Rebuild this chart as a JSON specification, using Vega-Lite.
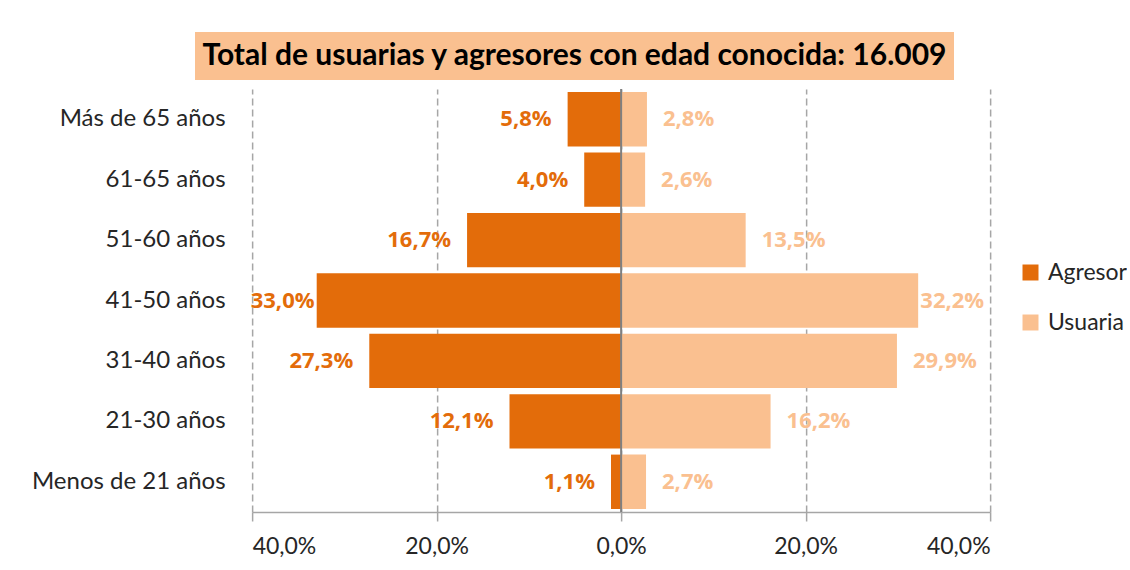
{
  "$schema": "https://vega.github.io/schema/vega-lite/v6.json",
  "background": "white",
  "padding": {"left": 31, "top": 32, "right": 0, "bottom": 0},
  "config": {"font": "Lato", "view": {"stroke": null}},
  "center": true,
  "spacing": 8,
  "vconcat": [
    {
      "width": 759,
      "height": 48,
      "view": {"fill": "#FAC090", "stroke": null},
      "data": {"values": [{"t": "Total de usuarias y agresores con edad conocida: 16.009"}]},
      "mark": {"type": "text", "font": "Lato", "fontWeight": "bold", "fontSize": 30, "color": "#000000", "baseline": "middle", "align": "center"},
      "encoding": {
        "text": {"field": "t", "type": "nominal"},
        "y": {"datum": "a", "type": "nominal", "axis": {"orient": "right", "labels": false, "ticks": false, "domain": false, "grid": false, "title": ".", "titleColor": "#ffffff", "titleFontSize": 11, "titlePadding": 83}}
      }
    },
    {
      "width": 738,
      "height": 423,
      "data": {
        "values": [
          {"edad": "Más de 65 años", "sexo": "Agresor", "valor": -0.058},
          {"edad": "61-65 años", "sexo": "Agresor", "valor": -0.040},
          {"edad": "51-60 años", "sexo": "Agresor", "valor": -0.167},
          {"edad": "41-50 años", "sexo": "Agresor", "valor": -0.330},
          {"edad": "31-40 años", "sexo": "Agresor", "valor": -0.273},
          {"edad": "21-30 años", "sexo": "Agresor", "valor": -0.121},
          {"edad": "Menos de 21 años", "sexo": "Agresor", "valor": -0.011},
          {"edad": "Más de 65 años", "sexo": "Usuaria", "valor": 0.028},
          {"edad": "61-65 años", "sexo": "Usuaria", "valor": 0.026},
          {"edad": "51-60 años", "sexo": "Usuaria", "valor": 0.135},
          {"edad": "41-50 años", "sexo": "Usuaria", "valor": 0.322},
          {"edad": "31-40 años", "sexo": "Usuaria", "valor": 0.299},
          {"edad": "21-30 años", "sexo": "Usuaria", "valor": 0.162},
          {"edad": "Menos de 21 años", "sexo": "Usuaria", "valor": 0.027}
        ]
      },
      "transform": [
        {"calculate": "replace(format(abs(datum.valor), '.1%'), '.', ',')", "as": "etiqueta"},
        {"calculate": "datum.valor < 0 ? max(datum.valor, -0.315) : min(datum.valor, 0.307)", "as": "posEtiqueta"}
      ],
      "layer": [
        {
          "mark": {"type": "bar"},
          "encoding": {
            "y": {
              "field": "edad", "type": "nominal",
              "sort": ["Más de 65 años", "61-65 años", "51-60 años", "41-50 años", "31-40 años", "21-30 años", "Menos de 21 años"],
              "scale": {"paddingInner": 0.1, "paddingOuter": 0.05},
              "axis": {"title": null, "ticks": false, "domain": false, "labelFont": "Lato", "labelFontSize": 24, "labelColor": "#262626", "labelPadding": 27, "labelLimit": 400}
            },
            "x": {
              "field": "valor", "type": "quantitative",
              "scale": {"domain": [-0.4, 0.4]},
              "axis": {
                "title": null,
                "values": [-0.4, -0.2, 0, 0.2, 0.4],
                "labelExpr": "replace(format(abs(datum.value), '.1%'), '.', ',')",
                "labelFont": "Lato", "labelFontSize": 23, "labelColor": "#262626",
                "labelPadding": 14,
                "tickSize": 9, "tickColor": "#a6a6a6", "domainColor": "#a6a6a6", "domainWidth": 1.5, "tickWidth": 1.5,
                "grid": true, "gridDash": [7, 4], "gridColor": "#a6a6a6", "gridWidth": 1.5
              }
            },
            "color": {
              "field": "sexo", "type": "nominal",
              "scale": {"domain": ["Agresor", "Usuaria"], "range": ["#E36C0A", "#FAC090"]},
              "legend": {
                "title": null, "orient": "none", "legendX": 824, "legendY": 229,
                "symbolType": "square", "symbolSize": 256, "symbolStrokeWidth": 0,
                "labelFont": "Lato", "labelFontSize": 23, "labelColor": "#262626",
                "rowPadding": 26, "labelOffset": 6
              }
            }
          }
        },
        {
          "data": {"values": [{"cero": 0}]},
          "mark": {"type": "rule", "color": "#808080", "strokeWidth": 2},
          "encoding": {"x": {"field": "cero", "type": "quantitative"}}
        },
        {
          "transform": [{"filter": "datum.sexo == 'Agresor'"}],
          "mark": {"type": "text", "font": "Open Sans", "fontWeight": "bold", "fontSize": 22, "align": "right", "baseline": "middle", "dx": -16, "color": "#E36C0A"},
          "encoding": {
            "y": {"field": "edad", "type": "nominal", "sort": ["Más de 65 años", "61-65 años", "51-60 años", "41-50 años", "31-40 años", "21-30 años", "Menos de 21 años"]},
            "x": {"field": "posEtiqueta", "type": "quantitative"},
            "text": {"field": "etiqueta", "type": "nominal"}
          }
        },
        {
          "transform": [{"filter": "datum.sexo == 'Usuaria'"}],
          "mark": {"type": "text", "font": "Open Sans", "fontWeight": "bold", "fontSize": 22, "align": "left", "baseline": "middle", "dx": 16, "color": "#FAC090"},
          "encoding": {
            "y": {"field": "edad", "type": "nominal", "sort": ["Más de 65 años", "61-65 años", "51-60 años", "41-50 años", "31-40 años", "21-30 años", "Menos de 21 años"]},
            "x": {"field": "posEtiqueta", "type": "quantitative"},
            "text": {"field": "etiqueta", "type": "nominal"}
          }
        }
      ]
    }
  ]
}
